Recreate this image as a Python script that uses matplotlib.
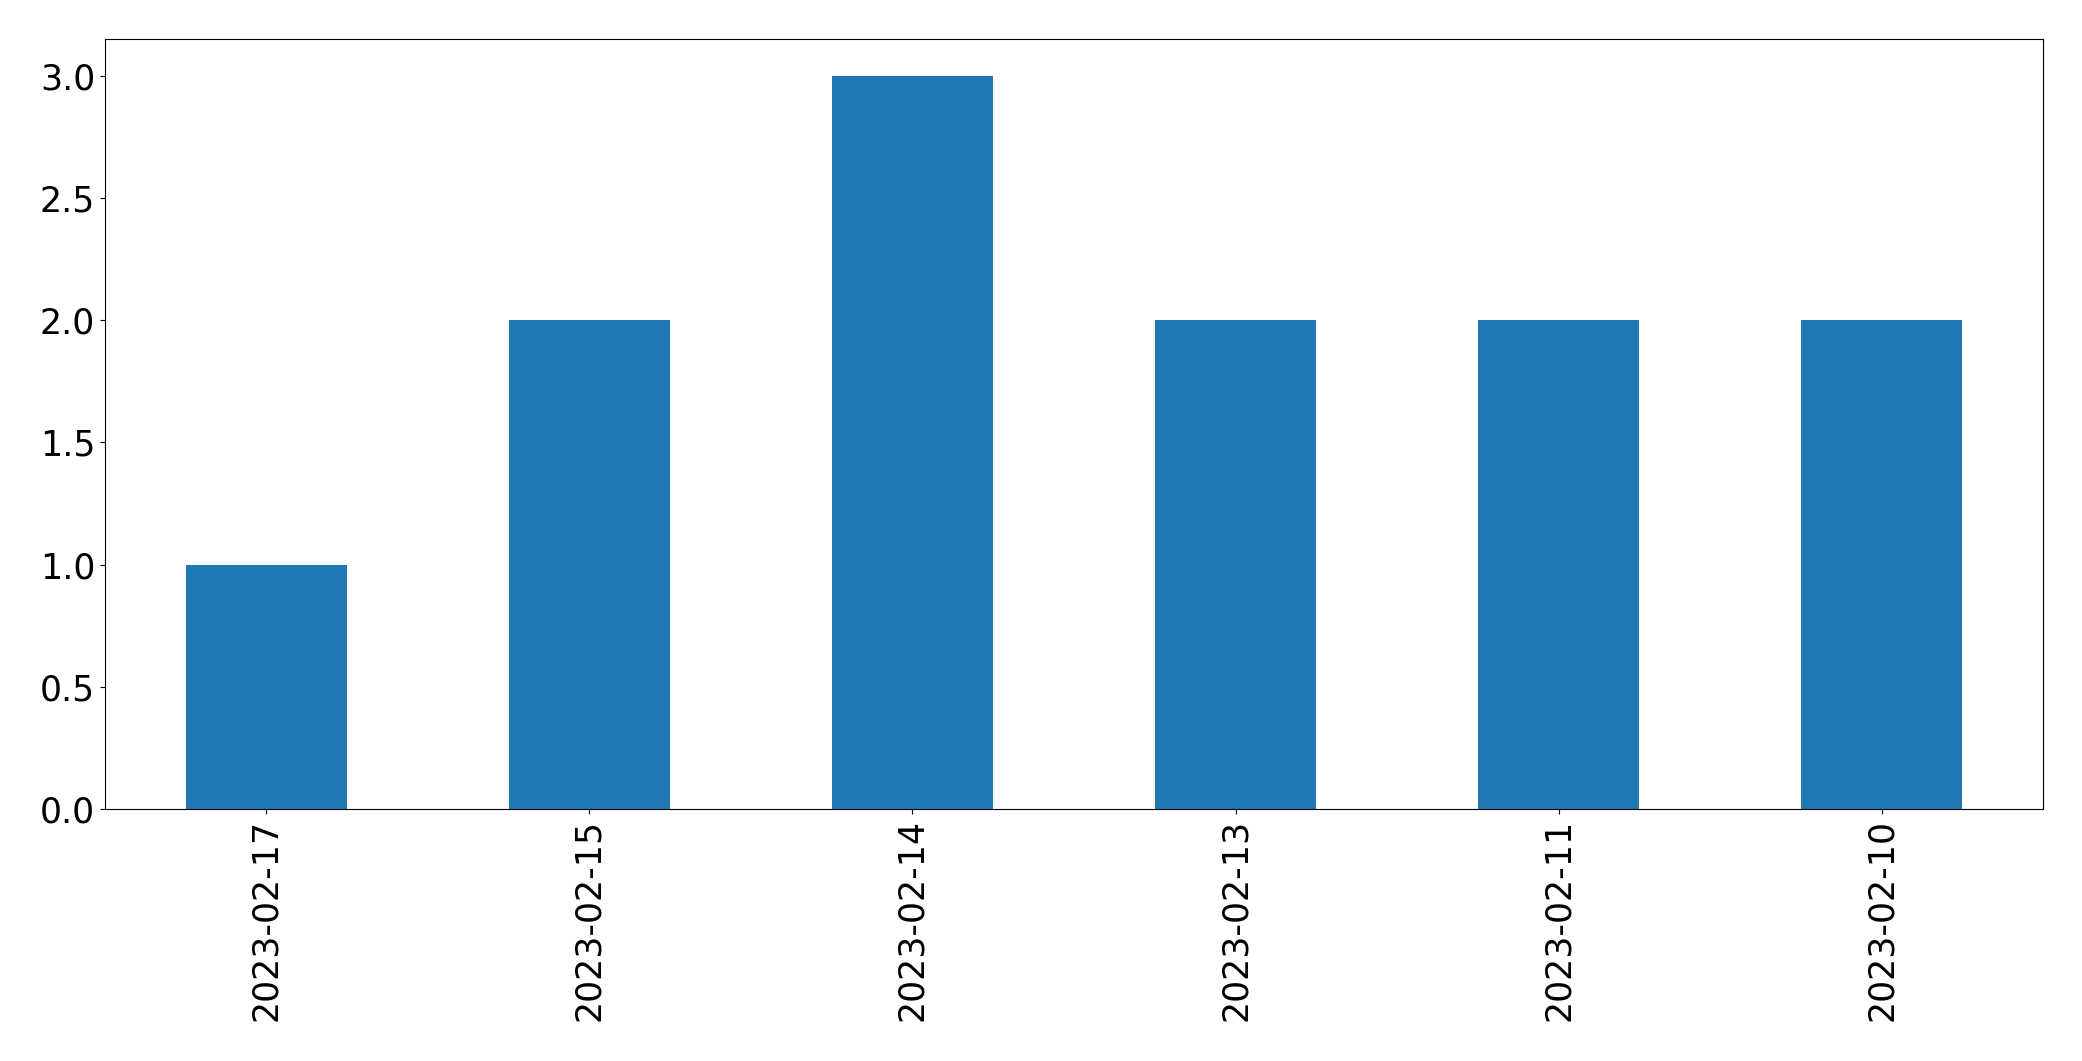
import matplotlib
matplotlib.use('Agg')
import matplotlib.pyplot as plt

# 日期和计数
dates = ['2023-02-17', '2023-02-15', '2023-02-14', '2023-02-13', '2023-02-11', '2023-02-10']
counts = [1, 2, 3, 2, 2, 2]

fig = plt.figure(figsize=(20.82, 10.61), dpi=100)
ax = fig.add_axes([0.0504, 0.2375, 0.9309, 0.7255])

x = range(len(dates))
ax.bar(x, counts, width=0.5, color='#1f77b4')
ax.set_xlim(-0.5, len(dates) - 0.5)
ax.set_ylim(0, max(counts) * 1.05)
ax.set_xticks(list(x))
ax.set_xticklabels(dates, rotation=90)
ax.tick_params(axis='both', labelsize=25)

fig.savefig('out.png', dpi=100)
